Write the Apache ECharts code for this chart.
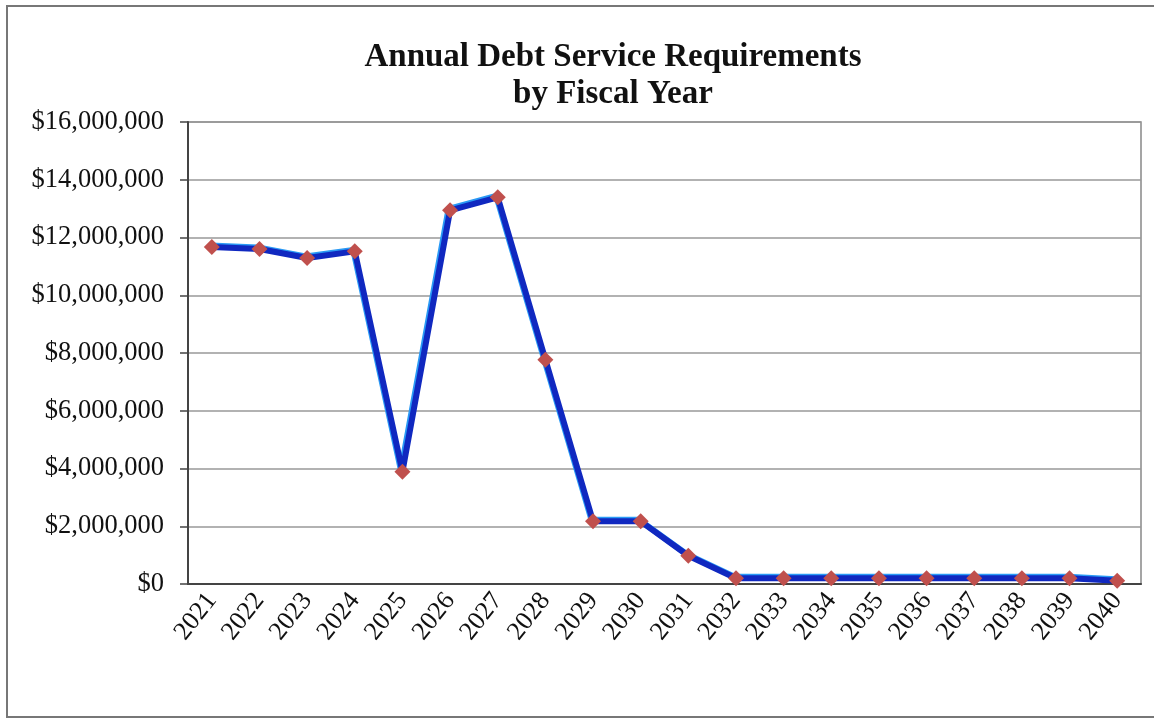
<!DOCTYPE html>
<html>
<head>
<meta charset="utf-8">
<style>
  html, body { margin: 0; padding: 0; background: #fff; }
  #chart { width: 1154px; height: 720px; }
</style>
<script src="https://cdn.jsdelivr.net/npm/echarts@6/dist/echarts.min.js"></script>
</head>
<body>
<div id="chart"></div>
<script>
const titleLines = ['Annual Debt Service Requirements', 'by Fiscal Year'];
const years = ['2021','2022','2023','2024','2025','2026','2027','2028','2029','2030',
               '2031','2032','2033','2034','2035','2036','2037','2038','2039','2040'];
const debtService = [11670000, 11600000, 11290000, 11520000, 3890000, 12940000, 13390000, 7770000,
                     2170000, 2170000, 980000, 200000, 200000, 200000, 200000, 200000, 200000,
                     200000, 200000, 110000];
const yTicks = { min: 0, max: 16000000, interval: 2000000 };

const serif = '"Liberation Serif", "Times New Roman", serif';
const chart = echarts.init(document.getElementById('chart'));

function money(v) {
  return '$' + Math.round(v).toString().replace(/\B(?=(\d{3})+(?!\d))/g, ',');
}

chart.setOption({
  backgroundColor: '#ffffff',
  animation: false,
  title: {
    text: titleLines.join('\n'),
    left: 608,
    top: 34,
    textAlign: 'center',
    textStyle: {
      fontFamily: serif,
      fontWeight: 'bold',
      fontSize: 33,
      lineHeight: 37,
      color: '#111'
    }
  },
  graphic: [{
    type: 'rect',
    shape: { x: 7, y: 6, width: 1160, height: 711 },
    style: { fill: 'none', stroke: '#777', lineWidth: 2 },
    silent: true
  }],
  grid: {
    left: 188, right: 13, top: 122, bottom: 136,
    show: true, borderColor: '#888', borderWidth: 1.5, backgroundColor: 'transparent'
  },
  xAxis: {
    type: 'category',
    data: years,
    boundaryGap: true,
    axisLine: { lineStyle: { color: '#444', width: 2 } },
    axisTick: { show: false },
    axisLabel: {
      rotate: 52,
      margin: 12,
      fontFamily: serif,
      fontSize: 26,
      color: '#111',
      interval: 0
    }
  },
  yAxis: {
    type: 'value',
    min: yTicks.min,
    max: yTicks.max,
    interval: yTicks.interval,
    axisLine: { show: true, lineStyle: { color: '#444', width: 2 } },
    axisTick: { show: true, length: 8, lineStyle: { color: '#444', width: 1.5 } },
    splitLine: { lineStyle: { color: '#999', width: 1.5 } },
    axisLabel: {
      formatter: money,
      margin: 24,
      fontFamily: serif,
      fontSize: 26.5,
      color: '#111'
    }
  },
  series: [{
    type: 'line',
    data: debtService,
    symbol: 'diamond',
    symbolSize: 16,
    itemStyle: { color: '#c0504d', borderWidth: 0 },
    lineStyle: {
      color: '#1028c0',
      width: 6,
      shadowColor: '#2a9af5',
      shadowBlur: 0,
      shadowOffsetX: -1.5,
      shadowOffsetY: -1.5
    },
    z: 3
  }]
});
</script>
</body>
</html>
